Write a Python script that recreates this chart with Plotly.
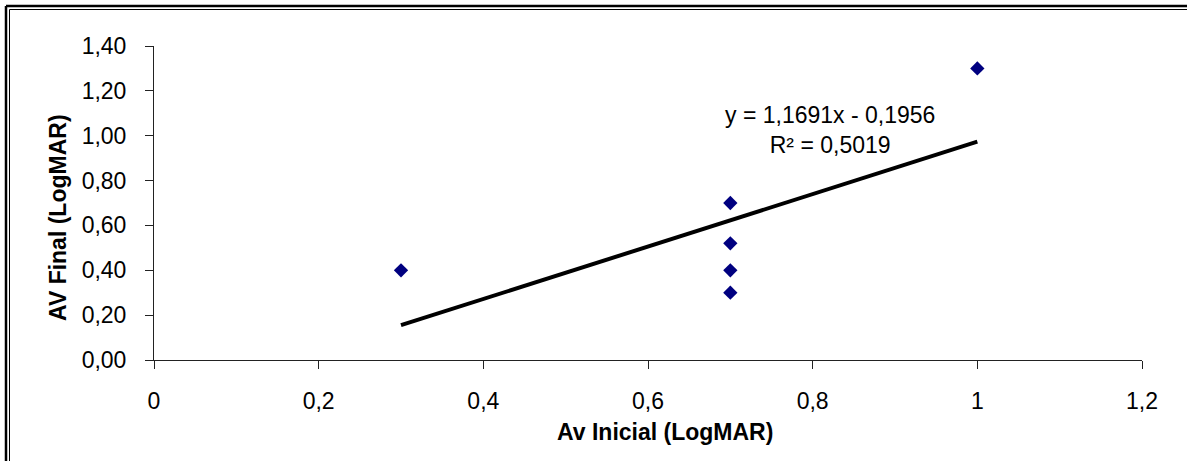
import numpy as np
import plotly.graph_objects as go

# Data
av_inicial = [0.3, 0.7, 0.7, 0.7, 0.7, 1.0]
av_final = [0.40, 0.70, 0.52, 0.40, 0.30, 1.30]
x_ticks = [0, 0.2, 0.4, 0.6, 0.8, 1.0, 1.2]
x_tick_labels = ["0", "0,2", "0,4", "0,6", "0,8", "1", "1,2"]
y_ticks = [0, 0.2, 0.4, 0.6, 0.8, 1.0, 1.2, 1.4]
y_tick_labels = ["0,00", "0,20", "0,40", "0,60", "0,80", "1,00", "1,20", "1,40"]
equation_text = "y = 1,1691x - 0,1956<br>R² = 0,5019"
x_title = "Av Inicial (LogMAR)"
y_title = "AV Final (LogMAR)"

# Linear trendline from the data
slope, intercept = np.polyfit(av_inicial, av_final, 1)
tx = [min(av_inicial), max(av_inicial)]
ty = [slope * v + intercept for v in tx]

W, H = 1187, 461
L, R, T, B = 154, 45, 46, 101
PW, PH = W - L - R, H - T - B

def px(xp):
    return (xp - L) / PW

def py(yp):
    return (H - B - yp) / PH

FONT = "Liberation Sans, Arial, sans-serif"

fig = go.Figure()
fig.add_trace(go.Scatter(
    x=tx, y=ty, mode="lines",
    line=dict(color="black", width=4),
    hoverinfo="skip", showlegend=False,
))
fig.add_trace(go.Scatter(
    x=av_inicial, y=av_final, mode="markers",
    marker=dict(symbol="diamond", size=11, color="#000080",
                line=dict(width=0)),
    showlegend=False,
))

axis_common = dict(
    showgrid=False, zeroline=False, showline=True,
    linecolor="#222222", linewidth=1,
    ticks="outside", ticklen=8, tickcolor="#222222", tickwidth=1,
    tickfont=dict(family=FONT, size=23, color="black"),
)

fig.update_xaxes(range=[0, 1.2], tickvals=x_ticks, ticktext=x_tick_labels,
                 ticklabelstandoff=12, **axis_common)
fig.update_yaxes(range=[0, 1.4], tickvals=y_ticks, ticktext=y_tick_labels,
                 ticklabelstandoff=14, **axis_common)

fig.add_annotation(
    x=0.821, y=1.025, xref="x", yref="y",
    text=equation_text, showarrow=False,
    font=dict(family=FONT, size=23, color="black"),
    align="center", xanchor="center", yanchor="middle",
)
fig.add_annotation(
    x=px(665), y=py(432), xref="paper", yref="paper",
    text="<b>" + x_title + "</b>", showarrow=False,
    font=dict(family=FONT, size=23, color="black"),
    xanchor="center", yanchor="middle",
)
fig.add_annotation(
    x=px(58), y=py(218), xref="paper", yref="paper",
    text="<b>" + y_title + "</b>", showarrow=False, textangle=-90,
    font=dict(family=FONT, size=23, color="black"),
    xanchor="center", yanchor="middle",
)

# Double frame (top and left)
frame = [
    (px(6), py(6), px(W + 5), py(6), 2.5),
    (px(9.5), py(9.5), px(W + 5), py(9.5), 1),
    (px(6), py(6), px(6), py(H + 5), 2.5),
    (px(9.5), py(9.5), px(9.5), py(H + 5), 1),
]
for x0, y0, x1, y1, w in frame:
    fig.add_shape(type="line", xref="paper", yref="paper",
                  x0=x0, y0=y0, x1=x1, y1=y1,
                  line=dict(color="black", width=w))

fig.update_layout(
    width=W, height=H,
    margin=dict(l=L, r=R, t=T, b=B),
    paper_bgcolor="white", plot_bgcolor="white",
    showlegend=False,
)

fig.write_html("out.html")
